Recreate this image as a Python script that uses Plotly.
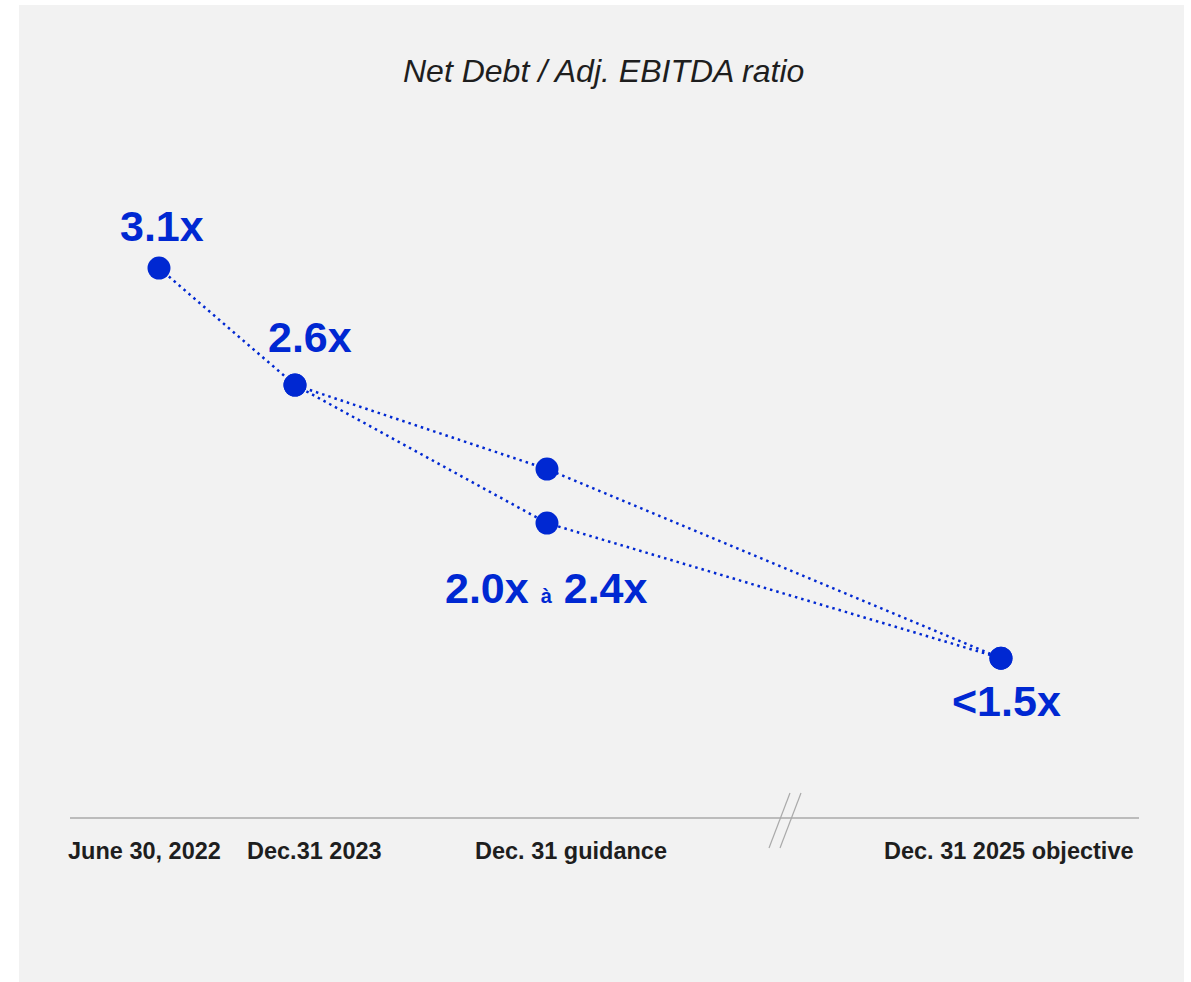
import plotly.graph_objects as go

# ---- data ----
stage_labels = ["June 30, 2022", "Dec.31 2023", "Dec. 31 guidance", "Dec. 31 2025 objective"]
stage_label_x = [0.893, 2.14, 4.033, 7.25]

# upper path: June 2022 -> Dec 2023 -> upper guidance -> 2025 objective
upper_x = [1.0, 2.0, 3.853, 7.191]
upper_y = [3.1, 2.6, 2.241, 1.433]
# lower path: Dec 2023 -> lower guidance -> 2025 objective
lower_x = [2.0, 3.853, 7.191]
lower_y = [2.6, 2.01, 1.433]

value_labels = ["3.1x", "2.6x", "2.0x <span style='font-size:20px'>à</span> 2.4x", "<1.5x"]
value_label_x = [1.0, 2.0, 3.853, 7.191]
value_label_y = [3.1, 2.6, 2.01, 1.433]
value_label_shift = [(3, 42), (15, 48), (-1, -65), (6, -43)]

title_text = "Net Debt / Adj. EBITDA ratio"

BLUE = "#0028d2"
W, H = 1191, 982
ML, MR, MT, MB = 19, 7, 5, 0


def px(p):
    return (p - ML) / (W - ML - MR)


def py(p):
    return (H - MB - p) / (H - MT - MB)


fig = go.Figure()
line_style = dict(color=BLUE, width=2.5, dash="2.5px,4px")
marker_style = dict(color=BLUE, size=23)
fig.add_trace(go.Scatter(x=upper_x, y=upper_y, mode="lines+markers",
                         line=line_style, marker=marker_style, hoverinfo="skip"))
fig.add_trace(go.Scatter(x=lower_x, y=lower_y, mode="lines+markers",
                         line=line_style, marker=marker_style, hoverinfo="skip"))

annotations = []
for t, x, y, (dx, dy) in zip(value_labels, value_label_x, value_label_y, value_label_shift):
    annotations.append(dict(x=x, y=y, xref="x", yref="y", text="<b>" + t + "</b>",
                            showarrow=False, xshift=dx, yshift=dy,
                            xanchor="center", yanchor="middle",
                            font=dict(family="Liberation Sans, Arial", size=43, color=BLUE)))
for t, x in zip(stage_labels, stage_label_x):
    annotations.append(dict(x=x, y=py(851), xref="x", yref="paper", text="<b>" + t + "</b>",
                            showarrow=False, xanchor="center", yanchor="middle",
                            font=dict(family="Liberation Sans, Arial", size=23.5, color="#1e1e1e")))
annotations.append(dict(x=px(603), y=py(71), xref="paper", yref="paper",
                        text="<i>" + title_text + "</i>", showarrow=False,
                        xanchor="center", yanchor="middle",
                        font=dict(family="Liberation Sans, Arial", size=32, color="#1e1e1e")))

shapes = [
    dict(type="line", xref="paper", yref="paper", x0=px(70), x1=px(1139), y0=py(818), y1=py(818),
         line=dict(color="#aaaaaa", width=1.5)),
    dict(type="line", xref="paper", yref="paper", x0=px(790), x1=px(769), y0=py(793), y1=py(848),
         line=dict(color="#aaaaaa", width=1.2)),
    dict(type="line", xref="paper", yref="paper", x0=px(801), x1=px(780), y0=py(793), y1=py(848),
         line=dict(color="#aaaaaa", width=1.2)),
]

fig.update_layout(
    width=W, height=H,
    margin=dict(l=ML, r=MR, t=MT, b=MB, pad=0),
    paper_bgcolor="white", plot_bgcolor="#f2f2f2",
    showlegend=False,
    xaxis=dict(range=[-0.0294, 8.537], visible=False, fixedrange=True),
    yaxis=dict(range=[0.049, 4.224], visible=False, fixedrange=True),
    annotations=annotations, shapes=shapes,
)

fig.write_html("out.html")
